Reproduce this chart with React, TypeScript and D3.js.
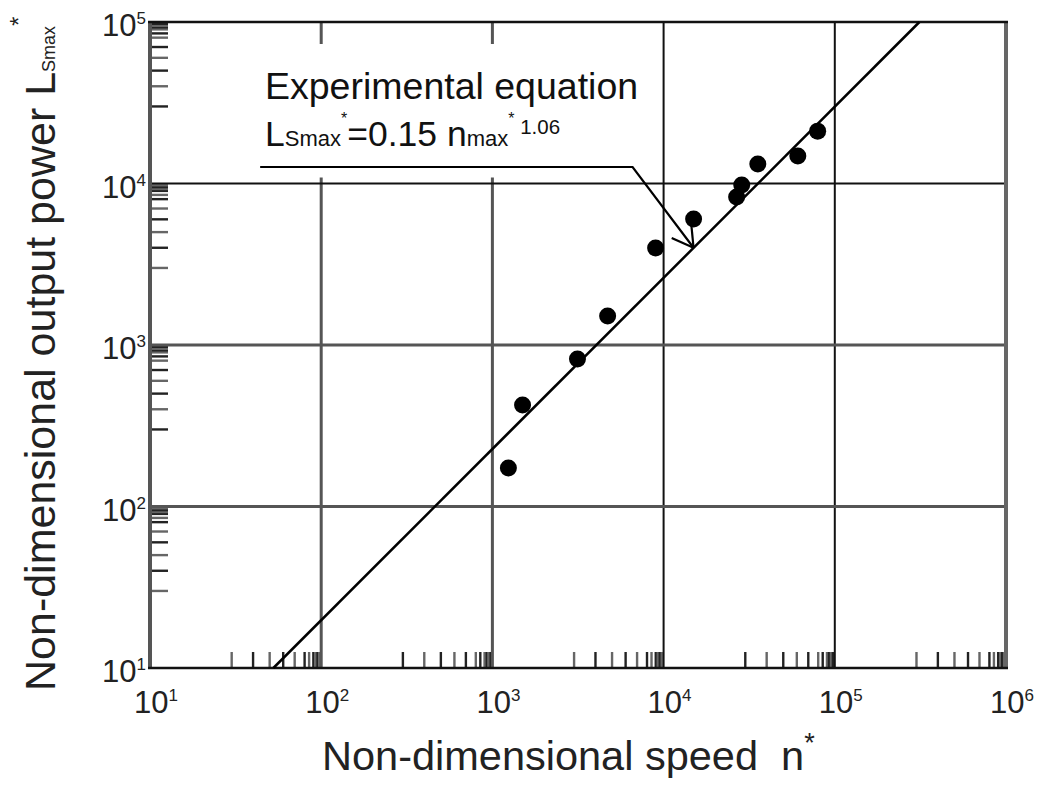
import React, { useEffect, useRef } from 'react';
import * as d3 from 'd3';

// measured points (n*, L_Smax*)
const speed = [1240, 1500, 3140, 4710, 8980, 14970, 26700, 28600, 35500, 60800, 79400];
const power = [173, 425, 819, 1514, 3990, 6030, 8250, 9790, 13200, 14800, 21100];

// axis decades (exponents) and minor tick multipliers
const xExps = [1, 2, 3, 4, 5, 6];
const yExps = [1, 2, 3, 4, 5];
const minorMult = [3, 4, 5, 6, 7, 8, 8.5, 9, 9.25, 9.5, 9.75];

// experimental equation L = 0.15 n^1.06
const fitCoef = 0.15;
const fitExp = 1.06;

// leader line for the annotation, in data units (n*, L*)
const leaderN = [44, 6590, 14960];
const leaderL = [12650, 12650, 4000];

const FONT = '"Liberation Sans", Arial, Helvetica, sans-serif';

const App = () => {
  const ref = useRef<SVGSVGElement>(null);

  useEffect(() => {
    const W = 1041;
    const H = 788;
    const svg = d3.select(ref.current).attr('width', W).attr('height', H);
    svg.selectAll('*').remove();

    const x = d3.scaleLog().domain([10, 1e6]).range([150, 1006]);
    const y = d3.scaleLog().domain([10, 1e5]).range([668, 22]);
    const [x0, x1] = x.range();
    const [y0, y1] = y.range();

    svg.append('rect').attr('width', W).attr('height', H).attr('fill', '#fff');

    // minor ticks on x (inside, from bottom)
    const xMinor: number[] = [];
    xExps.slice(0, -1).forEach(e => minorMult.forEach(m => xMinor.push(m * Math.pow(10, e))));
    svg.append('g').selectAll('line').data(xMinor).enter().append('line')
      .attr('x1', d => x(d)).attr('x2', d => x(d))
      .attr('y1', y0).attr('y2', y0 - 16)
      .attr('stroke', (d, i) => (i % 2 ? '#222' : '#666')).attr('stroke-width', 2.4);

    const yMinor: number[] = [];
    yExps.slice(0, -1).forEach(e => minorMult.forEach(m => yMinor.push(m * Math.pow(10, e))));
    svg.append('g').selectAll('line').data(yMinor).enter().append('line')
      .attr('y1', d => y(d)).attr('y2', d => y(d))
      .attr('x1', x0).attr('x2', x0 + 18)
      .attr('stroke', (d, i) => (i % 2 ? '#222' : '#666')).attr('stroke-width', 2.4);

    // grid lines: lower decades gray and heavier, upper decades black
    const gridColor = (e: number) => (e >= 4 ? '#111' : '#555');
    const gridWidth = (e: number) => (e >= 4 ? 2 : 3);
    svg.append('g').selectAll('line').data(xExps.slice(1, -1)).enter().append('line')
      .attr('x1', d => x(Math.pow(10, d))).attr('x2', d => x(Math.pow(10, d)))
      .attr('y1', y0).attr('y2', y1)
      .attr('stroke', gridColor).attr('stroke-width', gridWidth);
    svg.append('g').selectAll('line').data(yExps.slice(1, -1)).enter().append('line')
      .attr('y1', d => y(Math.pow(10, d))).attr('y2', d => y(Math.pow(10, d)))
      .attr('x1', x0).attr('x2', x1)
      .attr('stroke', gridColor).attr('stroke-width', gridWidth);

    // blank area behind the annotation text
    svg.append('rect')
      .attr('x', x0 + 40).attr('y', y1 + 22)
      .attr('width', x(6000) - x0 - 40).attr('height', y(1e4) - y1 - 28)
      .attr('fill', '#fff');

    // frame
    svg.append('line').attr('x1', x0).attr('x2', x0).attr('y1', y0).attr('y2', y1)
      .attr('stroke', '#555').attr('stroke-width', 4);
    svg.append('line').attr('x1', x1).attr('x2', x1).attr('y1', y0).attr('y2', y1)
      .attr('stroke', '#666').attr('stroke-width', 4);
    svg.append('line').attr('x1', x0 - 2).attr('x2', x1 + 2).attr('y1', y0).attr('y2', y0)
      .attr('stroke', '#111').attr('stroke-width', 2.5);
    svg.append('line').attr('x1', x0 - 2).attr('x2', x1 + 2).attr('y1', y1).attr('y2', y1)
      .attr('stroke', '#111').attr('stroke-width', 2.5);

    // fit line
    const nLo = Math.pow(10 / fitCoef, 1 / fitExp);
    const nHi = Math.pow(1e5 / fitCoef, 1 / fitExp);
    const fit = [nLo, nHi].map(n => [n, fitCoef * Math.pow(n, fitExp)]);
    svg.append('path')
      .attr('d', d3.line<number[]>().x(d => x(d[0])).y(d => y(d[1]))(fit))
      .attr('fill', 'none').attr('stroke', '#000').attr('stroke-width', 2.5);

    // points
    svg.append('g').selectAll('circle').data(speed).enter().append('circle')
      .attr('cx', d => x(d)).attr('cy', (d, i) => y(power[i]))
      .attr('r', 8.5).attr('fill', '#000');

    // leader + arrow
    const lp = leaderN.map((n, i) => [x(n), y(leaderL[i])]);
    svg.append('path')
      .attr('d', d3.line()(lp as [number, number][]))
      .attr('fill', 'none').attr('stroke', '#000').attr('stroke-width', 2.2);
    const [tx, ty] = lp[2];
    const [bx, by] = lp[1];
    const ang = Math.atan2(ty - by, tx - bx) + Math.PI;
    [-0.5, 0.55].forEach(da => {
      svg.append('line')
        .attr('x1', tx).attr('y1', ty)
        .attr('x2', tx + 24 * Math.cos(ang + da)).attr('y2', ty + 24 * Math.sin(ang + da))
        .attr('stroke', '#000').attr('stroke-width', 2.2);
    });

    // annotation text
    svg.append('text').attr('x', 265).attr('y', 99)
      .attr('font-family', FONT).attr('font-size', 37.5).attr('fill', '#111')
      .text('Experimental equation');
    const eq = svg.append('text').attr('x', 265).attr('y', 146)
      .attr('font-family', FONT).attr('font-size', 35.5).attr('fill', '#111');
    eq.append('tspan').text('L');
    eq.append('tspan').attr('font-size', 22).text('Smax');
    eq.append('tspan').attr('font-size', 16).attr('dy', -22).text('*');
    eq.append('tspan').attr('dy', 22).text('=0.15 n');
    eq.append('tspan').attr('font-size', 22).text('max');
    eq.append('tspan').attr('font-size', 16).attr('dy', -22).text('*');
    eq.append('tspan').attr('font-size', 20.5).attr('dy', 10).text('\u00a01.06');

    // tick labels
    xExps.forEach(e => {
      const t = svg.append('text').attr('x', x(Math.pow(10, e)) - 16).attr('y', 713)
        .attr('font-family', FONT).attr('font-size', 31).attr('fill', '#222');
      t.append('tspan').text('10');
      t.append('tspan').attr('font-size', 17).attr('dy', -12).text(String(e));
    });
    yExps.forEach(e => {
      const t = svg.append('text').attr('x', 146).attr('y', y(Math.pow(10, e)) + 14)
        .attr('text-anchor', 'end')
        .attr('font-family', FONT).attr('font-size', 31).attr('fill', '#222');
      t.append('tspan').text('10');
      t.append('tspan').attr('font-size', 17).attr('dy', -12).text(String(e));
    });

    // axis titles
    const xt = svg.append('text').attr('x', 322).attr('y', 770)
      .attr('font-family', FONT).attr('font-size', 41.5).attr('fill', '#222');
    xt.append('tspan').text('Non-dimensional speed\u00a0\u00a0n');
    xt.append('tspan').attr('font-size', 27).attr('dy', -18).text('*');

    const yt = svg.append('text')
      .attr('transform', 'translate(55,691) rotate(-90)')
      .attr('font-family', FONT).attr('font-size', 43).attr('fill', '#222');
    yt.append('tspan').text('Non-dimensional output power L');
    yt.append('tspan').attr('font-size', 18).text('Smax');
    yt.append('tspan').attr('font-size', 24).attr('dy', -28).text('*');
  }, []);

  return (
    <div style={{ position: 'absolute', left: 0, top: 0 }}>
      <svg ref={ref}></svg>
    </div>
  );
};

export default App;
